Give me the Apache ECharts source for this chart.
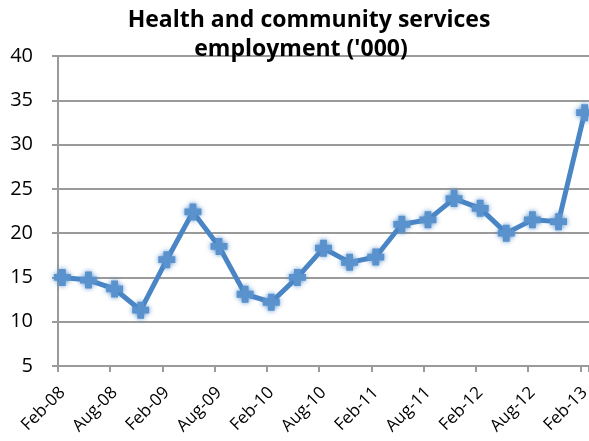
<!DOCTYPE html>
<html>
<head>
<meta charset="utf-8">
<script src="https://cdn.jsdelivr.net/npm/echarts@6/dist/echarts.min.js"></script>
<style>html,body{margin:0;padding:0;background:#fff;}#c{width:589px;height:441px;}</style>
</head>
<body>
<div id="c"></div>
<script>
// Quarterly observations
const quarters = ['Feb-08','May-08','Aug-08','Nov-08','Feb-09','May-09','Aug-09','Nov-09','Feb-10','May-10','Aug-10','Nov-10','Feb-11','May-11','Aug-11','Nov-11','Feb-12','May-12','Aug-12','Nov-12','Feb-13'];
const employment = [15.0,14.7,13.7,11.3,17.0,22.4,18.5,13.1,12.2,15.0,18.3,16.7,17.3,21.0,21.5,23.9,22.8,20.0,21.5,21.3,33.6];
const tickLabels = ['Feb-08','Aug-08','Feb-09','Aug-09','Feb-10','Aug-10','Feb-11','Aug-11','Feb-12','Aug-12','Feb-13'];
const yTicks = [5,10,15,20,25,30,35,40];
const titleLines = ["Health and community services", "employment ('000)"];

// Build monthly date axis (Excel-style date axis, base unit month)
const monNames = ['Jan','Feb','Mar','Apr','May','Jun','Jul','Aug','Sep','Oct','Nov','Dec'];
const months = [];
let m = 1, y = 8;
while (true) {
  const lab = monNames[m] + '-' + String(y).padStart(2,'0');
  months.push(lab);
  if (lab === quarters[quarters.length-1]) break;
  m++; if (m > 11) { m = 0; y++; }
}
const seriesData = months.map(lab => {
  const i = quarters.indexOf(lab);
  return i >= 0 ? employment[i] : null;
});

const chart = echarts.init(document.getElementById('c'), null, {renderer:'canvas'});
const gray = '#9a9a9a';
const font = '"Open Sans", sans-serif';
const titleStyle = {fontFamily: font, fontWeight: 'bold', fontSize: 23, color: '#000'};
chart.setOption({
  animation: false,
  title: [
    {text: titleLines[0], left: 304, textAlign: 'center', top: 4, textStyle: titleStyle},
    {text: titleLines[1], left: 296, textAlign: 'center', top: 33, textStyle: titleStyle}
  ],
  grid: {left: 58, right: 0, top: 56, bottom: 75, containLabel: false, outerBoundsMode: 'none'},
  xAxis: {
    type: 'category',
    data: months,
    boundaryGap: true,
    axisLine: {lineStyle: {color: gray, width: 2}},
    axisTick: {show: true, length: 6, interval: (i) => tickLabels.includes(months[i]), lineStyle: {color: gray, width: 2}},
    axisLabel: {
      interval: (i, v) => tickLabels.includes(v),
      rotate: 45, fontFamily: font, fontSize: 17, color: '#000', margin: 24
    },
    splitLine: {show: false}
  },
  yAxis: {
    type: 'value',
    min: yTicks[0], max: yTicks[yTicks.length-1], interval: 5,
    axisLine: {show: true, lineStyle: {color: gray, width: 2}},
    axisTick: {show: true, length: 6, lineStyle: {color: gray, width: 2}},
    axisLabel: {fontFamily: font, fontSize: 20, color: '#000', margin: 25},
    splitLine: {lineStyle: {color: gray, width: 2}}
  },
  series: [{
    type: 'line',
    data: seriesData,
    connectNulls: true,
    showSymbol: true,
    showAllSymbol: true,
    symbol: 'path://M3,0 L7,0 L7,3 L10,3 L10,7 L7,7 L7,10 L3,10 L3,7 L0,7 L0,3 L3,3 Z',
    symbolSize: 17,
    lineStyle: {color: '#4A86C5', width: 5},
    itemStyle: {color: '#5A92CE', shadowBlur: 5, shadowColor: 'rgba(74,134,197,0.9)'}
  }]
});
</script>
</body>
</html>
